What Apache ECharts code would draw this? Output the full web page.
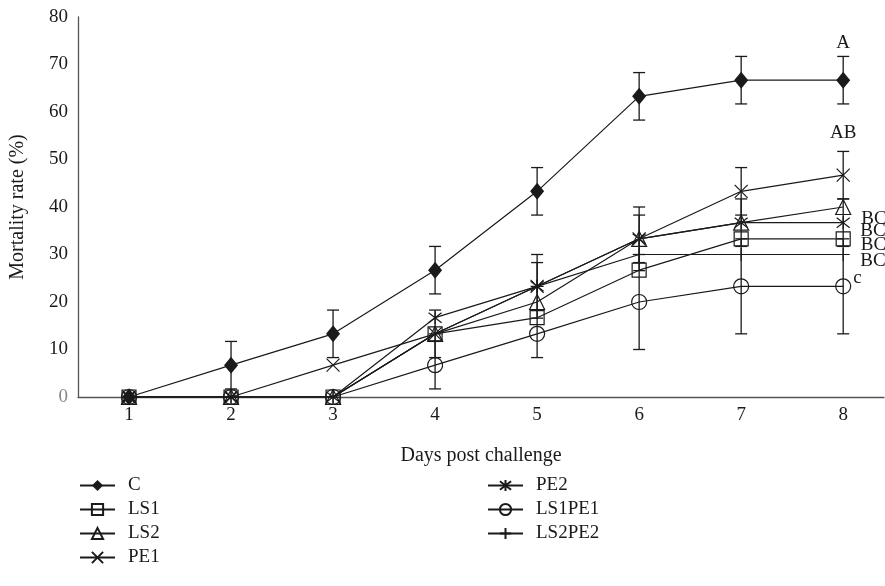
<!DOCTYPE html>
<html>
<head>
<meta charset="utf-8">
<script src="https://cdn.jsdelivr.net/npm/echarts@6/dist/echarts.min.js"></script>
<style>html,body{margin:0;padding:0;background:#fff;}#c{width:885px;height:586px;}</style>
</head>
<body>
<div id="c"></div>
<script>
var days = [1, 2, 3, 4, 5, 6, 7, 8];
var seriesNames = ['C', 'LS1', 'LS2', 'PE1', 'PE2', 'LS1PE1', 'LS2PE2'];
var C      = [0, 6.7, 13.3, 26.7, 43.3, 63.3, 66.7, 66.7];
var LS1    = [0, 0, 0, 13.3, 16.7, 26.7, 33.3, 33.3];
var LS2    = [0, 0, 0, 13.3, 20, 33.3, 36.7, 40];
var PE1    = [0, 0, 6.7, 13.3, 23.3, 33.3, 43.3, 46.7];
var PE2    = [0, 0, 0, 16.7, 23.3, 33.3, 36.7, 36.7];
var LS1PE1 = [0, 0, 0, 6.7, 13.3, 20, 23.3, 23.3];
var LS2PE2 = [0, 0, 0, 13.3, 23.3, 30, 30, 30];
var errC      = [0, 5, 5, 5, 5, 5, 5, 5];
var errLS1    = [0, 0, 0, 0, 0, 0, 0, 0];
var errLS2    = [0, 0, 0, 0, 0, 0, 0, 0];
var errPE1    = [0, 0, 0, 5, 6.7, 6.7, 5, 5];
var errPE2    = [0, 0, 0, 0, 5, 5, 5, 5];
var errLS1PE1 = [0, 0, 0, 5, 5, 10, 10, 10];
var errLS2PE2 = [0, 0, 0, 0, 0, 0, 0, 0];
var sigLetters = ['A', 'BC', 'BC', 'AB', 'BC', 'c', 'BC'];
var yTicks = [0, 10, 20, 30, 40, 50, 60, 70, 80];

var values = [C, LS1, LS2, PE1, PE2, LS1PE1, LS2PE2];
var errs = [errC, errLS1, errLS2, errPE1, errPE2, errLS1PE1, errLS2PE2];
var FONT = 'Liberation Serif';
var INK = '#1a1a1a';
var symbols = [
  'diamond',
  'rect',
  'triangle',
  'path://M0,0L10,10M10,0L0,10',
  'path://M0,0L10,10M10,0L0,10M5,-1.5L5,11.5',
  'circle',
  'path://M5,0L5,10M0,5L10,5'
];
var symSizes = [[14, 17], 14, 15, 13, 13, 15, 13];
var labelCfg = [
  {position: 'top', offset: [0, -14]},
  {position: 'right', offset: [5, 6]},
  {position: 'right', offset: [5, 12]},
  {position: 'top', offset: [0, -21]},
  {position: 'right', offset: [5, 8]},
  {position: 'right', offset: [-3, -8]},
  {position: 'right', offset: [5, 7]}
];

var series = [];
// error bars
values.forEach(function (vals, si) {
  var data = days.map(function (d, i) { return [d, vals[i], errs[si][i]]; });
  series.push({
    type: 'custom',
    name: seriesNames[si] + '_err',
    silent: true,
    z: 1,
    data: data,
    renderItem: function (params, api) {
      var x = api.value(0), y = api.value(1), e = api.value(2);
      if (!e) return null;
      var top = api.coord([x, y + e]);
      var bot = api.coord([x, y - e]);
      var hw = 6;
      var st = {stroke: INK, lineWidth: 1.3};
      return {
        type: 'group',
        children: [
          {type: 'line', shape: {x1: top[0], y1: top[1], x2: bot[0], y2: bot[1]}, style: st},
          {type: 'line', shape: {x1: top[0] - hw, y1: top[1], x2: top[0] + hw, y2: top[1]}, style: st},
          {type: 'line', shape: {x1: bot[0] - hw, y1: bot[1], x2: bot[0] + hw, y2: bot[1]}, style: st}
        ]
      };
    }
  });
});
// lines
values.forEach(function (vals, si) {
  series.push({
    type: 'line',
    name: seriesNames[si],
    data: days.map(function (d, i) { return [d, vals[i]]; }),
    symbol: symbols[si],
    symbolSize: symSizes[si],
    showAllSymbol: true,
    z: 3,
    lineStyle: {color: INK, width: 1.2},
    itemStyle: {
      color: si === 0 ? INK : 'rgba(0,0,0,0)',
      borderColor: INK,
      borderWidth: si === 0 ? 0 : 1.2
    },
    emphasis: {disabled: true},
    label: {
      show: true,
      position: labelCfg[si].position,
      offset: labelCfg[si].offset,
      fontFamily: FONT,
      fontSize: 19,
      color: INK,
      formatter: function (p) { return p.dataIndex === days.length - 1 ? sigLetters[si] : ''; }
    }
  });
});

var legendText = {fontFamily: FONT, fontSize: 19, color: INK, padding: [0, 0, 0, 8]};
var chart = echarts.init(document.getElementById('c'));
chart.setOption({
  animation: false,
  backgroundColor: '#fff',
  grid: {left: 78, right: 1, top: 17, bottom: 189, containLabel: false, outerBoundsMode: 'none'},
  xAxis: {
    type: 'value',
    min: 0.5,
    max: 8.4,
    interval: 0.5,
    name: 'Days post challenge',
    nameLocation: 'middle',
    nameGap: 49,
    nameTextStyle: {fontFamily: FONT, fontSize: 20, color: INK},
    axisLine: {show: true, lineStyle: {color: '#555', width: 1.3}},
    axisTick: {show: false},
    splitLine: {show: false},
    axisLabel: {
      fontFamily: FONT, fontSize: 19, color: INK, margin: 9,
      showMinLabel: true, showMaxLabel: false,
      formatter: function (v) { return days.indexOf(v) >= 0 ? String(v) : ''; }
    }
  },
  yAxis: {
    type: 'value',
    min: 0,
    max: 80,
    interval: 10,
    name: 'Mortality rate (%)',
    nameLocation: 'middle',
    nameGap: 50,
    nameTextStyle: {fontFamily: FONT, fontSize: 20, color: INK},
    axisLine: {show: true, lineStyle: {color: '#555', width: 1.3}},
    axisTick: {show: false},
    splitLine: {show: false},
    axisLabel: {
      fontFamily: FONT, fontSize: 19, margin: 10,
      color: function (v) { return Number(v) === 0 ? '#888' : INK; },
      formatter: function (v) { return yTicks.indexOf(v) >= 0 ? String(v) : ''; }
    }
  },
  legend: [
    {
      data: seriesNames.slice(0, 4),
      orient: 'vertical',
      left: 79, top: 476, padding: 0,
      itemWidth: 35, itemHeight: 14, itemGap: 5,
      textStyle: legendText,
      selectedMode: false
    },
    {
      data: seriesNames.slice(4),
      orient: 'vertical',
      left: 487, top: 476, padding: 0,
      itemWidth: 35, itemHeight: 14, itemGap: 5,
      textStyle: legendText,
      selectedMode: false
    }
  ],
  series: series
});
</script>
</body>
</html>
